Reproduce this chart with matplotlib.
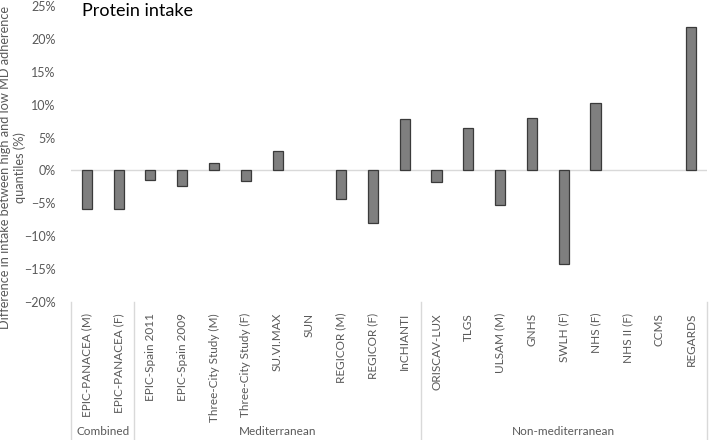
import matplotlib
matplotlib.use("Agg")
import matplotlib.pyplot as plt

plt.rcParams["font.family"] = ["Lato", "DejaVu Sans"]

studies = [
    "EPIC-PANACEA (M)", "EPIC-PANACEA (F)", "EPIC-Spain 2011", "EPIC-Spain 2009",
    "Three-City Study (M)", "Three-City Study (F)", "SU.VI.MAX", "SUN",
    "REGICOR (M)", "REGICOR (F)", "InCHIANTI", "ORISCAV-LUX", "TLGS",
    "ULSAM (M)", "GNHS", "SWLH (F)", "NHS (F)", "NHS II (F)", "CCMS", "REGARDS",
]
# None = no value reported
diff_pct = [
    -5.9, -5.9, -1.4, -2.4, 1.2, -1.6, 3.0, None,
    -4.4, -8.0, 7.8, -1.8, 6.5,
    -5.2, 8.0, -14.2, 10.3, None, None, 21.9,
]
groups = ["Combined", "Mediterranean", "Non-mediterranean"]
group_sizes = [2, 9, 9]

grey = "#595959"

fig = plt.figure(figsize=(7.09, 4.40), dpi=100)
ax = fig.add_axes([0.100, 0.314, 0.897, 0.672])

x = list(range(len(studies)))
xs = [i for i, v in zip(x, diff_pct) if v is not None]
ys = [v for v in diff_pct if v is not None]
ax.bar(xs, ys, width=0.32, color="#7f7f7f", edgecolor="#3a3a3a", linewidth=0.9, zorder=3)

ax.axhline(0, color="#d9d9d9", linewidth=1, zorder=1)
ax.set_xlim(-0.5, len(studies) - 0.5)
ax.set_ylim(-20, 25)
yt = list(range(-20, 30, 5))
ax.set_yticks(yt)
ax.set_yticklabels([f"{t}%".replace("-", "\u2212") for t in yt], color=grey, fontsize=9)
ax.tick_params(axis="y", length=0, pad=11)
ax.set_xticks(x)
ax.set_xticklabels(studies, rotation=90, color=grey, fontsize=8.5, va="top")
ax.tick_params(axis="x", length=0, pad=8)
for s in ax.spines.values():
    s.set_visible(False)

ylab = ax.set_ylabel("Difference in intake between high and low MD adherence\nquantiles (%)",
                     color=grey, fontsize=9.2, linespacing=1.2)
ylab.set_verticalalignment("center")
ax.yaxis.set_label_coords(-0.092, 0.453)

ax.text(0.017, 1.012, "Protein intake", transform=ax.transAxes,
        fontsize=13, color="black", va="top", ha="left")

# group separators and labels under the axis
tr = ax.get_xaxis_transform()
bounds = [-0.5]
for n in group_sizes:
    bounds.append(bounds[-1] + n)
for b in bounds:
    ax.plot([b, b], [0, -0.47], transform=tr, color="#d9d9d9", linewidth=1, clip_on=False)
for g, a, b in zip(groups, bounds[:-1], bounds[1:]):
    ax.text((a + b) / 2, -0.44, g, transform=tr, ha="center", va="center",
            color=grey, fontsize=8.5)

fig.savefig("out.png", dpi=100)
